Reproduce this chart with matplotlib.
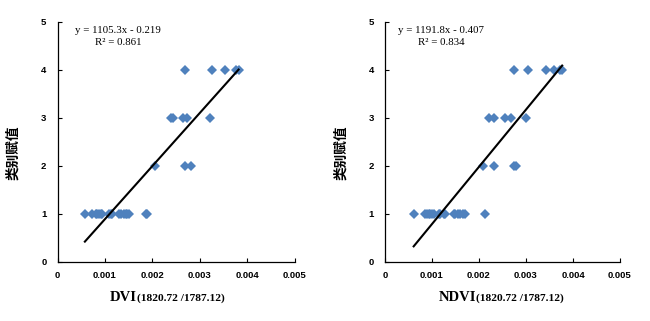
""" Class value vs. DVI / NDVI scatter with linear fit """
import matplotlib
matplotlib.use('Agg')
import matplotlib.pyplot as plt
import numpy as np

# DVI panel
dvi_x = [0.000577, 0.000732, 0.000803, 0.000838, 0.000873, 0.000908, 0.000944,
         0.00108, 0.00112, 0.00115, 0.0013, 0.00133, 0.0014, 0.00144, 0.00147,
         0.00151, 0.00186, 0.00189,
         0.00206, 0.0027, 0.00281,
         0.00239, 0.00244, 0.00265, 0.00274, 0.00321,
         0.00268, 0.00325, 0.00354, 0.00376, 0.00382]
dvi_y = [1] * 18 + [2] * 3 + [3] * 5 + [4] * 5
dvi_fit = (1105.3, -0.219)
dvi_eq = 'y = 1105.3x - 0.219'
dvi_r2 = 'R² = 0.861'

# NDVI panel
ndvi_x = [0.00061, 0.000858, 0.000894, 0.00093, 0.000965, 0.001, 0.00104,
          0.00114, 0.00118, 0.00125, 0.00128, 0.00146, 0.0015, 0.00155,
          0.00159, 0.00167, 0.00171, 0.00212,
          0.00208, 0.00231, 0.00275, 0.00279,
          0.00221, 0.00231, 0.00256, 0.00268, 0.00299,
          0.00275, 0.00304, 0.00343, 0.00359, 0.00373, 0.00377]
ndvi_y = [1] * 18 + [2] * 4 + [3] * 5 + [4] * 6
ndvi_fit = (1191.8, -0.407)
ndvi_eq = 'y = 1191.8x - 0.407'
ndvi_r2 = 'R² = 0.834'

x_ticks = [0, 0.001, 0.002, 0.003, 0.004, 0.005]
x_tick_labels = ['0', '0.001', '0.002', '0.003', '0.004', '0.005']
y_ticks = [0, 1, 2, 3, 4, 5]
y_label = '类别赋值'
x_suffix = '(1820.72 /1787.12)'

SERIF = 'Liberation Serif'
SANS = 'Liberation Sans'
CJK = ['Noto Sans CJK SC', 'DejaVu Sans']
BLUE = '#4F81BD'


def draw_panel(fig, rect, xs, ys, fit, eq, r2, name, split, eq_x):
    """ draw one scatter panel """
    ax = fig.add_axes(rect)
    xs = np.array(xs)
    ax.plot(xs, ys, linestyle='none', marker='D', markersize=4.7,
            color=BLUE, markeredgewidth=0, zorder=2)
    line_x = np.array([xs.min(), xs.max()])
    ax.plot(line_x, fit[0] * line_x + fit[1], color='black', linewidth=1.5,
            zorder=3)

    ax.set_xlim(0, 0.005)
    ax.set_ylim(0, 5)
    ax.set_xticks(x_ticks)
    ax.set_xticklabels(x_tick_labels)
    ax.set_yticks(y_ticks)
    for lab in ax.get_xticklabels() + ax.get_yticklabels():
        lab.set_fontfamily(SANS)
        lab.set_fontweight('bold')
        lab.set_fontsize(6.8)
    ax.tick_params(direction='in', length=3, width=0.8, pad=7)
    ax.tick_params(axis='y', pad=8)
    for side in ('top', 'right'):
        ax.spines[side].set_visible(False)
    for side in ('left', 'bottom'):
        ax.spines[side].set_linewidth(0.9)

    ax.text(eq_x, 0.965, eq, transform=ax.transAxes, ha='center',
            va='center', family=SERIF, fontsize=7.8)
    ax.text(eq_x, 0.915, r2, transform=ax.transAxes, ha='center',
            va='center', family=SERIF, fontsize=7.8)

    ax.text(split, -0.15, name, transform=ax.transAxes, ha='right',
            va='center', family=SERIF, fontweight='bold', fontsize=10.5)
    ax.text(split, -0.15, x_suffix, transform=ax.transAxes, ha='left',
            va='center', family=SERIF, fontweight='bold', fontsize=8.2)
    ax.text(-0.185, 0.455, y_label, transform=ax.transAxes, ha='center',
            va='center', rotation=90, family=CJK, fontweight='bold',
            fontsize=9.8)
    return ax


def main():
    fig = plt.figure(figsize=(6.5, 3.21), dpi=100)
    draw_panel(fig, [0.0885, 0.1847, 0.3646, 0.7477], dvi_x, dvi_y,
               dvi_fit, dvi_eq, dvi_r2, 'DVI', 0.335, 0.255)
    draw_panel(fig, [0.5923, 0.1847, 0.3615, 0.7477], ndvi_x, ndvi_y,
               ndvi_fit, ndvi_eq, ndvi_r2, 'NDVI', 0.387, 0.238)
    fig.savefig('out.png', dpi=100)


if __name__ == '__main__':
    main()
